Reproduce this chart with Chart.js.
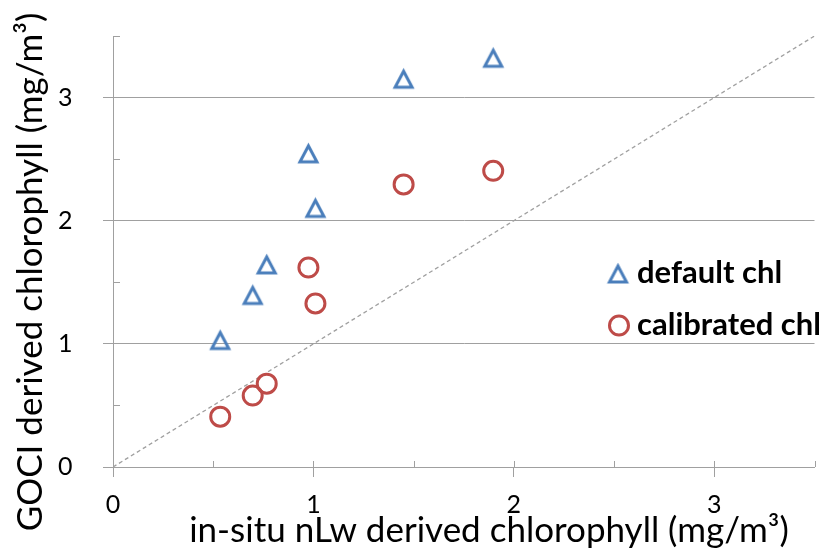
<!DOCTYPE html>
<html>
<head>
<meta charset="utf-8">
<script src="https://cdn.jsdelivr.net/npm/chart.js@4"></script>
<style>
  body { margin: 0; background: #fff; }
</style>
</head>
<body>
<canvas id="chart" width="827" height="556"></canvas>
<script>
let insitu_chl = [0.535, 0.697, 0.767, 0.975, 1.01, 1.45, 1.897];
let default_chl = [1.027, 1.393, 1.641, 2.543, 2.10, 3.149, 3.319];
let calibrated_chl = [0.409, 0.58, 0.677, 1.62, 1.328, 2.295, 2.405];
let one_to_one = [0, 3.5];
let tick_values = [0, 1, 2, 3];
let minor_values = [0.5, 1.5, 2.5, 3.5];

let BLUE = '#4a7ebb';
let RED = '#be4b48';
let GRAY = '#a0a0a0';
let FONT = 'Lato, "Open Sans", sans-serif';

// triangle marker centred on its box, like the spreadsheet one
let make_triangle = function(w, h, lw) {
    let c = document.createElement('canvas');
    c.width = w + lw * 2 + 2;
    c.height = h + lw * 2 + 2;
    let g = c.getContext('2d');
    let cx = c.width / 2, cy = c.height / 2;
    g.strokeStyle = BLUE;
    g.lineWidth = lw;
    g.lineJoin = 'miter';
    g.beginPath();
    g.moveTo(cx, cy - h / 2);
    g.lineTo(cx + w / 2, cy + h / 2);
    g.lineTo(cx - w / 2, cy + h / 2);
    g.closePath();
    g.stroke();
    return c;
};
let triangle = make_triangle(17, 16, 3);

let to_points = function(xs, ys) {
    return xs.map(function(x, i) { return {x: x, y: ys[i]}; });
};

let extras = {
    id: 'extras',
    beforeDatasetsDraw: function(chart) {
        let ctx = chart.ctx;
        let x = chart.scales.x, y = chart.scales.y;
        ctx.save();
        ctx.strokeStyle = GRAY;
        ctx.lineWidth = 1;
        ctx.beginPath();
        minor_values.forEach(function(v) {
            let py = Math.round(y.getPixelForValue(v)) + 0.5;
            ctx.moveTo(x.left, py);
            ctx.lineTo(x.left + 7, py);
        });
        minor_values.concat([1, 2, 3]).forEach(function(v) {
            let px = Math.round(x.getPixelForValue(v)) + 0.5;
            ctx.moveTo(px, y.bottom);
            ctx.lineTo(px, y.bottom - 6);
        });
        ctx.stroke();
        ctx.restore();
    },
    afterDraw: function(chart) {
        let ctx = chart.ctx;
        ctx.save();
        ctx.fillStyle = '#000';

        // axis titles
        ctx.font = '35px ' + FONT;
        ctx.textAlign = 'center';
        ctx.textBaseline = 'alphabetic';
        ctx.fillText('in-situ nLw derived chlorophyll (mg/m\u00b3)', 489, 542);

        ctx.save();
        ctx.translate(42, 272);
        ctx.rotate(-Math.PI / 2);
        ctx.fillText('GOCI derived chlorophyll (mg/m\u00b3)', 0, 0);
        ctx.restore();

        // legend inside the plot
        ctx.font = 'bold 31px ' + FONT;
        ctx.textAlign = 'left';
        ctx.drawImage(triangle, 618 - triangle.width / 2, 274 - triangle.height / 2);
        ctx.fillText('default chl', 637, 283);

        ctx.strokeStyle = RED;
        ctx.lineWidth = 3;
        ctx.beginPath();
        ctx.arc(619, 325.5, 9.5, 0, Math.PI * 2);
        ctx.stroke();
        ctx.fillText('calibrated chl', 637, 335);
        ctx.restore();
    }
};

let chart_element = document.getElementById('chart');

let chart = new Chart(chart_element, {
    type: 'scatter',
    plugins: [extras],
    data: {
        datasets: [{
            label: 'default chl',
            data: to_points(insitu_chl, default_chl),
            pointStyle: triangle,
            pointRadius: 11,
            borderColor: BLUE,
            backgroundColor: 'rgba(0,0,0,0)'
        }, {
            label: 'calibrated chl',
            data: to_points(insitu_chl, calibrated_chl),
            pointStyle: 'circle',
            pointRadius: 9.5,
            borderWidth: 3,
            borderColor: RED,
            backgroundColor: 'rgba(0,0,0,0)'
        }, {
            label: '1:1',
            type: 'line',
            data: to_points(one_to_one, one_to_one),
            borderColor: GRAY,
            borderWidth: 1.3,
            borderDash: [4, 3],
            pointRadius: 0,
            fill: false
        }]
    },
    options: {
        responsive: false,
        animation: false,
        layout: { padding: { left: 58, top: 36, right: 10, bottom: 0 } },
        plugins: {
            legend: { display: false },
            tooltip: { enabled: false }
        },
        scales: {
            x: {
                type: 'linear',
                min: 0,
                max: 3.5,
                afterBuildTicks: function(scale) {
                    scale.ticks = tick_values.map(function(v) { return {value: v}; });
                },
                afterFit: function(scale) { scale.height = 89; },
                grid: { drawOnChartArea: false, drawTicks: true, tickLength: 10, color: GRAY },
                border: { color: GRAY },
                ticks: { color: '#000', padding: 13, font: { family: FONT, size: 25 } }
            },
            y: {
                type: 'linear',
                min: 0,
                max: 3.5,
                afterBuildTicks: function(scale) {
                    scale.ticks = tick_values.map(function(v) { return {value: v}; });
                },
                afterFit: function(scale) { scale.width = 55; },
                grid: { drawTicks: true, tickLength: 10, color: GRAY },
                border: { color: GRAY },
                ticks: { color: '#000', padding: 0, crossAlign: 'far', font: { family: FONT, size: 25 } }
            }
        }
    }
});
</script>
</body>
</html>
